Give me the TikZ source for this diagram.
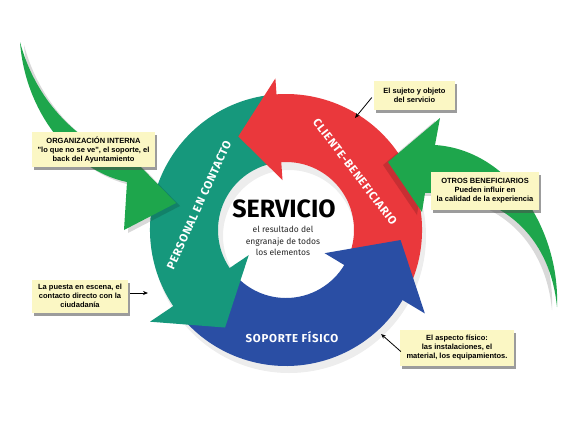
\documentclass[tikz,border=0pt]{standalone}
\usepackage{fontspec}
\setmainfont{Fira Sans}
\newfontfamily\notefont{Liberation Sans}
\newfontfamily\ringfont[LetterSpace=6]{Fira Sans}
\usetikzlibrary{arrows.meta,shadows}
\definecolor{cred}{RGB}{234,56,60}
\definecolor{cteal}{RGB}{22,152,124}
\definecolor{cblue}{RGB}{42,78,164}
\definecolor{cgreen}{RGB}{30,166,76}
\definecolor{noteyellow}{RGB}{251,247,196}
\tikzset{
  note/.style={fill=noteyellow, align=center, inner sep=1pt,
    font=\notefont\bfseries\fontsize{7.5}{9}\selectfont,
    drop shadow={shadow xshift=2pt, shadow yshift=-3pt, opacity=.55, fill=black!70}},
  ringlabel/.style={text=white, font=\ringfont\bfseries\fontsize{11.5}{13}\selectfont, inner sep=0pt},
  pointer/.style={-{Stealth[length=5pt,width=4pt]}, thick, black},
  greenleft/.style={fill=cgreen, drop shadow={shadow xshift=4pt, shadow yshift=-3pt, opacity=.15, fill=black}},
  greenright/.style={fill=cgreen, drop shadow={shadow xshift=-5pt, shadow yshift=-3pt, opacity=.15, fill=black}}
}
\begin{document}
\begin{tikzpicture}[x=1pt,y=-1pt]
\useasboundingbox (0,0) rectangle (576,432);
\fill[white] (0,0) rectangle (576,432);

% ring
\begin{scope}[shift={(286,230)}, yscale=-1]
  % soft shadow
  \fill[black, opacity=.07, even odd rule, shift={(3,-6)}] (0,0) circle[radius=137] (0,0) circle[radius=66];
  % bodies
  \fill[cred] (-22:68) -- (-22:136) arc[start angle=-22, end angle=95, radius=136]
     -- (95:68) arc[start angle=95, end angle=-22, radius=68] -- cycle;
  \fill[cteal] (98:68) -- (98:136) arc[start angle=98, end angle=215, radius=136]
     -- (215:68) arc[start angle=215, end angle=98, radius=68] -- cycle;
  \fill[cblue] (222:68) -- (222:136) arc[start angle=222, end angle=330, radius=136]
     -- (330:68) arc[start angle=330, end angle=222, radius=68] -- cycle;
  % heads
  \fill[cred] (94:152) -- (117:105) -- (94:50) -- cycle;
  \fill[cteal] (214:164) -- (238:115) -- (214:45) -- cycle;
  \fill[cblue] (329:162) -- (355:115) -- (329:45) -- cycle;
\end{scope}

% ring labels
\node[ringlabel, rotate=-52.6] (cb) at (355,172) {CLIENTE-BENEFICIARIO};
\node[ringlabel, rotate=65.5] (pc) at (199,205) {PERSONAL EN CONTACTO};
\node[ringlabel] (sf) at (292,337) {SOPORTE FÍSICO};

% centre
\node[font=\fontsize{25}{25}\selectfont\bfseries, inner sep=0pt] (serv) at (284,209) {SERVICIO};
\node[align=center, font=\fontsize{8.5}{11.5}\selectfont, text=black!85, inner sep=0pt] (sub) at (283,241)
  {el resultado del\\engranaje de todos\\los elementos};

% green arrows
\path[greenleft] (20,42) .. controls (25,110) and (70,170) .. (127,182) -- (124,230) -- (176,203)
  -- (140,166) .. controls (85,148) and (38,108) .. (20,42) -- cycle;
\path[greenright] (557,307) .. controls (560,230) and (510,150) .. (435,145) -- (440,118) -- (388,162)
  -- (422,212) -- (425,193) .. controls (500,190) and (550,235) .. (557,307) -- cycle;

% notes
\node[note, minimum width=123pt, minimum height=35pt] (n1) at (93.5,149.5)
  {ORGANIZACIÓN INTERNA\\"lo que no se ve", el soporte, el\\back del Ayuntamiento};
\node[note, minimum width=81pt, minimum height=29pt] (n2) at (414.5,95.5)
  {El sujeto y objeto\\del servicio};
\node[note, minimum width=108pt, minimum height=38pt] (n3) at (485,191)
  {OTROS BENEFICIARIOS\\Pueden influir en\\la calidad de la experiencia};
\node[note, minimum width=96pt, minimum height=33pt] (n4) at (80,296)
  {La puesta en escena, el\\contacto directo con la\\ciudadanía};
\node[note, minimum width=114pt, minimum height=36pt] (n5) at (457,347.5)
  {El aspecto físico:\\las instalaciones, el\\material, los equipamientos.};

% pointers
\coordinate (a2) at (355,118);
\coordinate (a4) at (148,293);
\coordinate (a5) at (381,334);
\draw[pointer] ([xshift=-2pt,yshift=-2pt]n2.west) -- (a2);
\draw[pointer] ([xshift=2pt,yshift=3pt]n4.east) -- (a4);
\draw[pointer] ([xshift=1pt,yshift=-4pt]n5.west) -- (a5);
\end{tikzpicture}
\end{document}
